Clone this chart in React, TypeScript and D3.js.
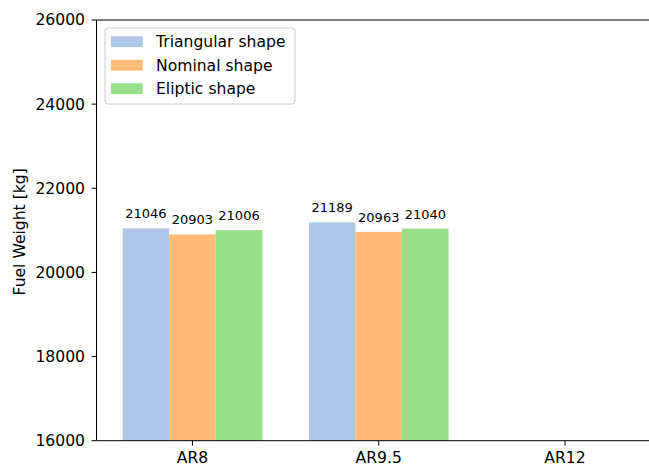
import React from "react";
import * as d3 from "d3";

const categories = ["AR8", "AR9.5", "AR12"];
const seriesNames = ["Triangular shape", "Nominal shape", "Eliptic shape"];
const triangular = [21046, 21189];
const nominal = [20903, 20963];
const eliptic = [21006, 21040];
const yTicks = [16000, 18000, 20000, 22000, 24000, 26000];
const colors = ["#aec7e8", "#ffbb78", "#98df8a"];

const W = 649;
const H = 467;
const left = 96.5;
const top = 20;
const bottom = 440.7;
const font = "DejaVu Sans, sans-serif";

export default function App() {
  const series = [triangular, nominal, eliptic];
  const x = d3.scaleLinear().domain([-0.515, 2.515]).range([left, left + 3.03 * 186.3]);
  const y = d3.scaleLinear().domain([16000, 26000]).range([bottom, top]);
  const barW = 0.25;

  return (
    <svg
      width={W}
      height={H}
      style={{ position: "absolute", left: 0, top: 0, background: "#fff" }}
      fontFamily={font}
    >
      {series.map((vals, s) =>
        vals.map((v, i) => {
          const cx = i + (s - 1) * barW;
          const x0 = x(cx - barW / 2);
          const x1 = x(cx + barW / 2);
          return (
            <g key={`${s}-${i}`}>
              <rect x={x0} y={y(v)} width={x1 - x0} height={y(16000) - y(v)} fill={colors[s]} />
              <text x={x(cx)} y={y(v) - 10} textAnchor="middle" fontSize={13} fill="#000">
                {v}
              </text>
            </g>
          );
        })
      )}

      {/* spines */}
      <line x1={left} x2={left} y1={top} y2={bottom} stroke="#000" strokeWidth={1} />
      <line x1={left} x2={W} y1={top} y2={top} stroke="#000" strokeWidth={1} />
      <line x1={left} x2={W} y1={bottom} y2={bottom} stroke="#000" strokeWidth={1} />

      {/* y axis */}
      {yTicks.map((t) => (
        <g key={t}>
          <line x1={left - 4.9} x2={left} y1={y(t)} y2={y(t)} stroke="#000" strokeWidth={1} />
          <text x={left - 11.5} y={y(t)} dy="0.35em" textAnchor="end" fontSize={15.6} fill="#000">
            {t}
          </text>
        </g>
      ))}
      <text
        transform={`translate(${25},${(top + bottom) / 2 + 1.5}) rotate(-90)`}
        textAnchor="middle"
        fontSize={15.6}
        fill="#000"
      >
        Fuel Weight [kg]
      </text>

      {/* x axis */}
      {categories.map((c, i) => (
        <g key={c}>
          <line x1={x(i)} x2={x(i)} y1={bottom} y2={bottom + 4.9} stroke="#000" strokeWidth={1} />
          <text x={x(i)} y={bottom + 22} textAnchor="middle" fontSize={15.6} fill="#000">
            {c}
          </text>
        </g>
      ))}

      {/* legend */}
      <rect x={105} y={28} width={190} height={76} rx={3} fill="#fff" fillOpacity={0.8} stroke="#ccc" strokeWidth={1} />
      {seriesNames.map((n, s) => (
        <g key={n} transform={`translate(0,${41.7 + s * 23.5})`}>
          <rect x={111} y={-5.4} width={31.7} height={10.8} fill={colors[s]} />
          <text x={156} y={0} dy="0.35em" fontSize={15.6} fill="#000">
            {n}
          </text>
        </g>
      ))}
    </svg>
  );
}
